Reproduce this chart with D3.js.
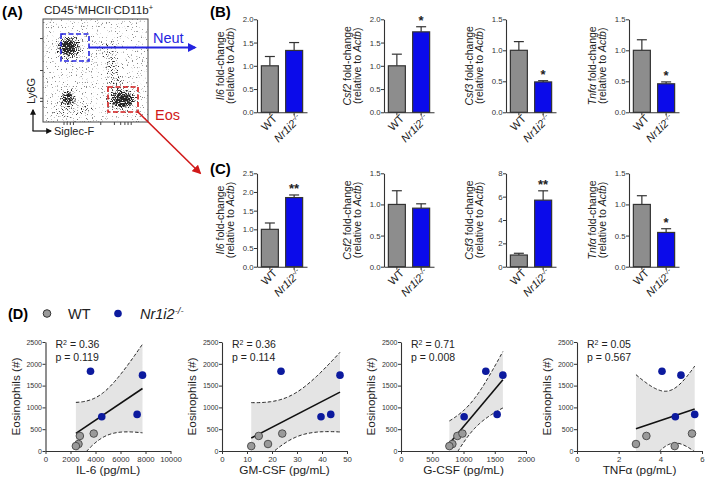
<!DOCTYPE html>
<html><head><meta charset="utf-8">
<script src="https://cdn.jsdelivr.net/npm/d3@7"></script>
<style>
body{margin:0;background:#fff}
svg{display:block}
text{font-family:Arial,"Liberation Sans",sans-serif}
</style>
</head><body>
<svg id="c" width="709" height="482"></svg>
<script>
// ---------------- DATA ----------------
const groups = ["WT", "KO"];
const genes = ["Il6", "Csf2", "Csf3", "Tnfα"];
// Panel B (neutrophils)
const neutWT = [1, 1, 1, 1];
const neutWTErr = [0.20, 0.25, 0.14, 0.17];
const neutKO = [1.33, 1.73, 0.49, 0.46];
const neutKOErr = [0.17, 0.11, 0.02, 0.03];
const neutYMax = [2, 2, 1.5, 1.5];
const neutSig = ["", "*", "*", "*"];
// Panel C (eosinophils)
const eosWT = [1, 1, 1, 1];
const eosWTErr = [0.17, 0.22, 0.15, 0.14];
const eosKO = [1.85, 0.94, 5.7, 0.55];
const eosKOErr = [0.07, 0.07, 0.8, 0.06];
const eosYMax = [2.5, 1.5, 8, 1.5];
const eosSig = ["**", "", "**", "*"];
// Panel D (per mouse)
const genotype = ["KO", "KO", "KO", "KO", "WT", "WT", "WT", "WT"];
const eosCount = [1830, 1740, 785, 840, 345, 400, 160, 112];
const il6 = [3600, 7760, 4500, 7330, 2750, 3860, 2640, 2430];
const gmcsf = [23.6, 47.2, 39.6, 43.5, 14.7, 24.1, 18.4, 11.7];
const gcsf = [1357, 1630, 1010, 1538, 902, 983, 822, 774];
const tnfa = [4.08, 4.99, 4.72, 5.65, 3.33, 5.52, 2.83, 4.69];
const scatterXMax = [10000, 50, 2000, 6];
const scatterXStep = [2000, 10, 500, 2];
const scatterXLabel = ["IL-6 (pg/mL)", "GM-CSF (pg/mL)", "G-CSF (pg/mL)", "TNFα (pg/mL)"];
const scatterR2 = ["0.36", "0.36", "0.71", "0.05"];
const scatterP = ["0.119", "0.114", "0.008", "0.567"];
const eosTicks = [0, 500, 1000, 1500, 2000, 2500];
// Panel A flow-cytometry density components (normalised axis units)
const flowCx = [0.5, 0.25, 0.238, 0.62, 0.667, 0.71, 0.75, 0.762, 0.24, 0.238, 0.3];
const flowCy = [0.5, 0.72, 0.728, 0.70, 0.505, 0.36, 0.22, 0.214, 0.23, 0.233, 0.12];
const flowRx = [0.8, 0.12, 0.072, 0.1, 0.07, 0.07, 0.135, 0.09, 0.08, 0.05, 0.2];
const flowRy = [0.8, 0.11, 0.07, 0.09, 0.13, 0.07, 0.1, 0.062, 0.08, 0.05, 0.08];
const flowDens = [0.18, 0.48, 0.95, 0.22, 0.22, 0.25, 0.48, 0.95, 0.4, 0.85, 0.2];
const flowLeftTicks = [0.2, 0.23, 0.5, 0.81];
const flowBottomTicks = [0.2, 0.23, 0.26, 0.29, 0.55, 0.68, 0.74, 0.78, 0.81, 0.84];

// ---------------- LAYOUT ----------------
const svg = d3.select("#c");
const defs = svg.append("defs");
const INK = "#333";
const BLUE_BAR = "#0b0bea";
const GRAY_BAR = "#8d8d8d";
const BLUE_PT = "#0c1a9e";

function marker(id, color, size) {
  defs.append("marker").attr("id", id).attr("viewBox", "0 0 10 10")
    .attr("refX", 8).attr("refY", 5).attr("markerWidth", size).attr("markerHeight", size)
    .attr("orient", "auto").attr("markerUnits", "userSpaceOnUse")
    .append("path").attr("d", "M0,0L10,5L0,10z").attr("fill", color);
}
marker("arrB", "#2424e0", 9);
marker("arrR", "#d11a1a", 9);
marker("arrK", "#111", 6);

function styleAxis(g, fs) {
  g.select(".domain").attr("stroke", INK).attr("stroke-width", 1.1);
  g.selectAll(".tick line").attr("stroke", INK).attr("stroke-width", 1);
  g.selectAll(".tick text").attr("fill", INK).attr("font-size", fs)
    .attr("font-family", "Arial, 'Liberation Sans', sans-serif");
}

// ---------- Panel A ----------
const fx = d3.scaleLinear().domain([0, 1]).range([43, 148]);
const fy = d3.scaleLinear().domain([0, 1]).range([122, 19]);
svg.append("text").attr("x", 2).attr("y", 17).attr("font-size", 15).attr("font-weight", "bold").text("(A)");
const title = svg.append("text").attr("x", 44).attr("y", 14).attr("font-size", 11.6).attr("fill", "#222");
title.append("tspan").text("CD45");
title.append("tspan").attr("baseline-shift", "super").attr("font-size", 7.5).text("+");
title.append("tspan").text("MHCII");
title.append("tspan").attr("baseline-shift", "super").attr("font-size", 7.5).text("-");
title.append("tspan").text("CD11b");
title.append("tspan").attr("baseline-shift", "super").attr("font-size", 7.5).text("+");

const filt = defs.append("filter").attr("id", "dither").attr("filterUnits", "userSpaceOnUse")
  .attr("x", 43).attr("y", 19).attr("width", 105).attr("height", 103)
  .attr("color-interpolation-filters", "sRGB");
filt.append("feGaussianBlur").attr("in", "SourceGraphic").attr("stdDeviation", 2).attr("result", "dens");
filt.append("feTurbulence").attr("type", "fractalNoise").attr("baseFrequency", 0.8)
  .attr("numOctaves", 1).attr("seed", 7).attr("result", "noise");
filt.append("feColorMatrix").attr("in", "noise").attr("type", "matrix")
  .attr("values", "0 0 0 0 0  0 0 0 0 0  0 0 0 0 0  2.4 0 0 0 -0.7").attr("result", "nA");
filt.append("feComposite").attr("in", "dens").attr("in2", "nA").attr("operator", "arithmetic")
  .attr("k1", 0).attr("k2", 1).attr("k3", 1).attr("k4", -1).attr("result", "sum");
const ct = filt.append("feComponentTransfer").attr("in", "sum");
ct.append("feFuncR").attr("type", "linear").attr("slope", 0).attr("intercept", 0.15);
ct.append("feFuncG").attr("type", "linear").attr("slope", 0).attr("intercept", 0.15);
ct.append("feFuncB").attr("type", "linear").attr("slope", 0).attr("intercept", 0.15);
ct.append("feFuncA").attr("type", "linear").attr("slope", 3).attr("intercept", 0);

const flowG = svg.append("g").attr("filter", "url(#dither)");
flowG.selectAll("ellipse").data(flowCx).join("ellipse")
  .attr("cx", d => fx(d)).attr("cy", (d, i) => fy(flowCy[i]))
  .attr("rx", (d, i) => fx(flowRx[i]) - fx(0)).attr("ry", (d, i) => fy(0) - fy(flowRy[i]))
  .attr("fill", "#000").attr("fill-opacity", (d, i) => flowDens[i]);

svg.append("rect").attr("x", 43).attr("y", 19).attr("width", 105).attr("height", 103)
  .attr("fill", "none").attr("stroke", "#444").attr("stroke-width", 1);
svg.append("g").selectAll("line").data(flowLeftTicks).join("line")
  .attr("x1", 40).attr("x2", 43).attr("y1", d => fy(d)).attr("y2", d => fy(d)).attr("stroke", "#444");
svg.append("g").selectAll("line").data(flowBottomTicks).join("line")
  .attr("y1", 122).attr("y2", 125).attr("x1", d => fx(d)).attr("x2", d => fx(d)).attr("stroke", "#444");

// gates
svg.append("rect").attr("x", 61).attr("y", 34).attr("width", 28).attr("height", 27)
  .attr("fill", "none").attr("stroke", "#2424e0").attr("stroke-width", 1.6).attr("stroke-dasharray", "5,2.5");
svg.append("rect").attr("x", 108).attr("y", 87).attr("width", 30).attr("height", 25)
  .attr("fill", "none").attr("stroke", "#d11a1a").attr("stroke-width", 1.6).attr("stroke-dasharray", "5,2.5");
svg.append("line").attr("x1", 89).attr("y1", 47.5).attr("x2", 195).attr("y2", 47.5)
  .attr("stroke", "#2424e0").attr("stroke-width", 2).attr("marker-end", "url(#arrB)");
svg.append("line").attr("x1", 138).attr("y1", 112).attr("x2", 200).attr("y2", 173)
  .attr("stroke", "#d11a1a").attr("stroke-width", 1.6).attr("marker-end", "url(#arrR)");
svg.append("text").attr("x", 153).attr("y", 43).attr("font-size", 14.5).attr("fill", "#2424e0").text("Neut");
svg.append("text").attr("x", 155).attr("y", 120).attr("font-size", 14.5).attr("fill", "#d11a1a").text("Eos");
// axis arrows
svg.append("line").attr("x1", 33).attr("y1", 131).attr("x2", 33).attr("y2", 110)
  .attr("stroke", "#111").attr("stroke-width", 1.2).attr("marker-end", "url(#arrK)");
svg.append("line").attr("x1", 32.5).attr("y1", 131).attr("x2", 51).attr("y2", 131)
  .attr("stroke", "#111").attr("stroke-width", 1.2).attr("marker-end", "url(#arrK)");
svg.append("text").attr("x", 54).attr("y", 135).attr("font-size", 11).attr("fill", "#222").text("Siglec-F");
svg.append("text").attr("transform", "translate(35,91) rotate(-90)").attr("text-anchor", "middle")
  .attr("font-size", 11).attr("fill", "#222").text("Ly6G");

// ---------- Panels B & C ----------
const barX0 = [257, 384, 506, 629];
function barChart(x0, yTop, yBot, gene, wt, wtE, ko, koE, yMax, sig) {
  const g = svg.append("g");
  const x = d3.scaleBand().domain(groups).range([x0, x0 + 50]).paddingInner(0.3).paddingOuter(0.18);
  const y = d3.scaleLinear().domain([0, yMax]).range([yBot, yTop]);
  const step = yMax === 8 ? 2 : 0.5;
  const ticks = d3.range(0, yMax + step / 2, step);
  const ya = g.append("g").attr("transform", `translate(${x0},0)`)
    .call(d3.axisLeft(y).tickValues(ticks).tickSize(3).tickSizeOuter(0)
      .tickFormat(yMax === 8 ? d3.format("d") : d3.format(".1f")));
  styleAxis(ya, 7.8);
  ya.selectAll(".tick text").attr("x", -3.5);
  const xa = g.append("g").attr("transform", `translate(0,${yBot})`)
    .call(d3.axisBottom(x).tickSize(3).tickSizeOuter(0).tickFormat(""));
  styleAxis(xa, 8);
  const vals = [wt, ko], errs = [wtE, koE];
  groups.forEach((grp, i) => {
    const cx = x(grp) + x.bandwidth() / 2;
    const top = y(vals[i] + errs[i]);
    g.append("line").attr("x1", cx).attr("x2", cx).attr("y1", y(vals[i])).attr("y2", top)
      .attr("stroke", INK).attr("stroke-width", 1.2);
    g.append("line").attr("x1", cx - 5).attr("x2", cx + 5).attr("y1", top).attr("y2", top)
      .attr("stroke", INK).attr("stroke-width", 1.2);
    g.append("rect").attr("x", x(grp)).attr("width", x.bandwidth())
      .attr("y", y(vals[i])).attr("height", y(0) - y(vals[i]))
      .attr("fill", grp === "WT" ? GRAY_BAR : BLUE_BAR).attr("stroke", INK).attr("stroke-width", 1.2);
    const lab = g.append("text").attr("text-anchor", "end").attr("font-size", 11).attr("fill", "#222")
      .attr("transform", `translate(${cx + 8},${yBot + 7}) rotate(-45)`);
    if (grp === "WT") lab.text("WT");
    else {
      lab.append("tspan").attr("font-style", "italic").text("Nr1i2");
      lab.append("tspan").attr("font-style", "italic").attr("baseline-shift", "super").attr("font-size", 7.5).text("-/-");
    }
    if (grp === "KO" && sig) {
      g.append("text").attr("x", cx).attr("y", top - 1.5).attr("text-anchor", "middle")
        .attr("font-size", 13).attr("font-weight", "bold").attr("fill", "#222").text(sig);
    }
  });
  const cy = (yTop + yBot) / 2;
  const l1 = g.append("text").attr("transform", `translate(${x0 - 33.5},${cy}) rotate(-90)`)
    .attr("text-anchor", "middle").attr("font-size", 10.5).attr("fill", "#222");
  l1.append("tspan").attr("font-style", "italic").text(gene);
  l1.append("tspan").text(" fold-change");
  const l2 = g.append("text").attr("transform", `translate(${x0 - 23},${cy}) rotate(-90)`)
    .attr("text-anchor", "middle").attr("font-size", 10.5).attr("fill", "#222");
  l2.append("tspan").text("(relative to ");
  l2.append("tspan").attr("font-style", "italic").text("Actb");
  l2.append("tspan").text(")");
}
genes.forEach((gn, i) => {
  barChart(barX0[i], 19.3, 112.3, gn, neutWT[i], neutWTErr[i], neutKO[i], neutKOErr[i], neutYMax[i], neutSig[i]);
  barChart(barX0[i], 173.3, 266.7, gn, eosWT[i], eosWTErr[i], eosKO[i], eosKOErr[i], eosYMax[i], eosSig[i]);
});
svg.append("text").attr("x", 210).attr("y", 17).attr("font-size", 15).attr("font-weight", "bold").text("(B)");
svg.append("text").attr("x", 210).attr("y", 174).attr("font-size", 15).attr("font-weight", "bold").text("(C)");

// ---------- Panel D ----------
svg.append("text").attr("x", 8).attr("y", 319).attr("font-size", 14.5).attr("font-weight", "bold").text("(D)");
svg.append("circle").attr("cx", 47).attr("cy", 313.5).attr("r", 3.8).attr("fill", "#9a9a9a").attr("stroke", "#333").attr("stroke-width", 1);
svg.append("text").attr("x", 68).attr("y", 319).attr("font-size", 14.5).attr("fill", "#222").text("WT");
svg.append("circle").attr("cx", 118).attr("cy", 313.5).attr("r", 3.8).attr("fill", BLUE_PT);
const lg = svg.append("text").attr("x", 140).attr("y", 319).attr("font-size", 14.5).attr("fill", "#222");
lg.append("tspan").attr("font-style", "italic").text("Nr1i2");
lg.append("tspan").attr("font-style", "italic").attr("baseline-shift", "super").attr("font-size", 9.5).text("-/-");

const scX0 = [45.5, 222, 401, 577];
const T_CRIT = 2.4469; // t(0.975, df=6)
function scatter(k, xs) {
  const x0 = scX0[k];
  const g = svg.append("g");
  const x = d3.scaleLinear().domain([0, scatterXMax[k]]).range([x0, x0 + 125]);
  const y = d3.scaleLinear().domain([0, 2500]).range([451, 342]);
  const clipId = "clip" + k;
  defs.append("clipPath").attr("id", clipId).append("rect")
    .attr("x", x0).attr("y", 342).attr("width", 125).attr("height", 109);
  // regression
  const n = xs.length;
  const mx = d3.mean(xs), my = d3.mean(eosCount);
  let sxx = 0, sxy = 0;
  xs.forEach((v, i) => { sxx += (v - mx) ** 2; sxy += (v - mx) * (eosCount[i] - my); });
  const b = sxy / sxx, a = my - b * mx;
  let sse = 0;
  xs.forEach((v, i) => { sse += (eosCount[i] - (a + b * v)) ** 2; });
  const s = Math.sqrt(sse / (n - 2));
  const lo = d3.min(xs), hi = d3.max(xs);
  const samples = d3.range(0, 61).map(i => lo + (hi - lo) * i / 60);
  const half = v => T_CRIT * s * Math.sqrt(1 / n + (v - mx) ** 2 / sxx);
  const cg = g.append("g").attr("clip-path", `url(#${clipId})`);
  cg.append("path").datum(samples)
    .attr("d", d3.area().x(v => x(v)).y0(v => y(a + b * v - half(v))).y1(v => y(a + b * v + half(v))))
    .attr("fill", "#e4e4e4");
  [1, -1].forEach(sg => {
    cg.append("path").datum(samples)
      .attr("d", d3.line().x(v => x(v)).y(v => y(a + b * v + sg * half(v))))
      .attr("fill", "none").attr("stroke", "#222").attr("stroke-width", 1).attr("stroke-dasharray", "3.5,2");
  });
  cg.append("line").attr("x1", x(lo)).attr("x2", x(hi)).attr("y1", y(a + b * lo)).attr("y2", y(a + b * hi))
    .attr("stroke", "#111").attr("stroke-width", 1.6);
  // axes
  const ya = g.append("g").attr("transform", `translate(${x0},0)`)
    .call(d3.axisLeft(y).tickValues(eosTicks).tickSize(3).tickSizeOuter(0).tickFormat(d3.format("d")));
  styleAxis(ya, 7);
  ya.selectAll(".tick text").attr("x", -3.5);
  const xStep = scatterXStep[k];
  const xa = g.append("g").attr("transform", "translate(0,451)")
    .call(d3.axisBottom(x).tickValues(d3.range(0, scatterXMax[k] + xStep / 2, xStep))
      .tickSize(3).tickSizeOuter(0).tickFormat(d3.format("d")));
  styleAxis(xa, 7.8);
  xa.selectAll(".tick text").attr("y", 5);
  // points
  g.selectAll("circle").data(xs).join("circle")
    .attr("cx", d => x(d)).attr("cy", (d, i) => y(eosCount[i])).attr("r", 3.8)
    .attr("fill", (d, i) => genotype[i] === "WT" ? "#9a9a9a" : BLUE_PT)
    .attr("stroke", (d, i) => genotype[i] === "WT" ? "#444" : "none").attr("stroke-width", 0.9);
  // stats text
  const t1 = g.append("text").attr("x", x0 + 10).attr("y", 348).attr("font-size", 10.5).attr("fill", "#222");
  t1.append("tspan").text("R");
  t1.append("tspan").attr("baseline-shift", "super").attr("font-size", 7).text("2");
  t1.append("tspan").text(" = " + scatterR2[k]);
  g.append("text").attr("x", x0 + 10).attr("y", 361).attr("font-size", 10.5).attr("fill", "#222")
    .text("p = " + scatterP[k]);
  g.append("text").attr("x", x0 + 62.5).attr("y", 474).attr("text-anchor", "middle")
    .attr("font-size", 11.8).attr("fill", "#222").text(scatterXLabel[k]);
  g.append("text").attr("transform", `translate(${x0 - 26},396.5) rotate(-90)`).attr("text-anchor", "middle")
    .attr("font-size", 11.8).attr("fill", "#222").text("Eosinophils (#)");
}
[il6, gmcsf, gcsf, tnfa].forEach((xs, k) => scatter(k, xs));
</script>
</body></html>
